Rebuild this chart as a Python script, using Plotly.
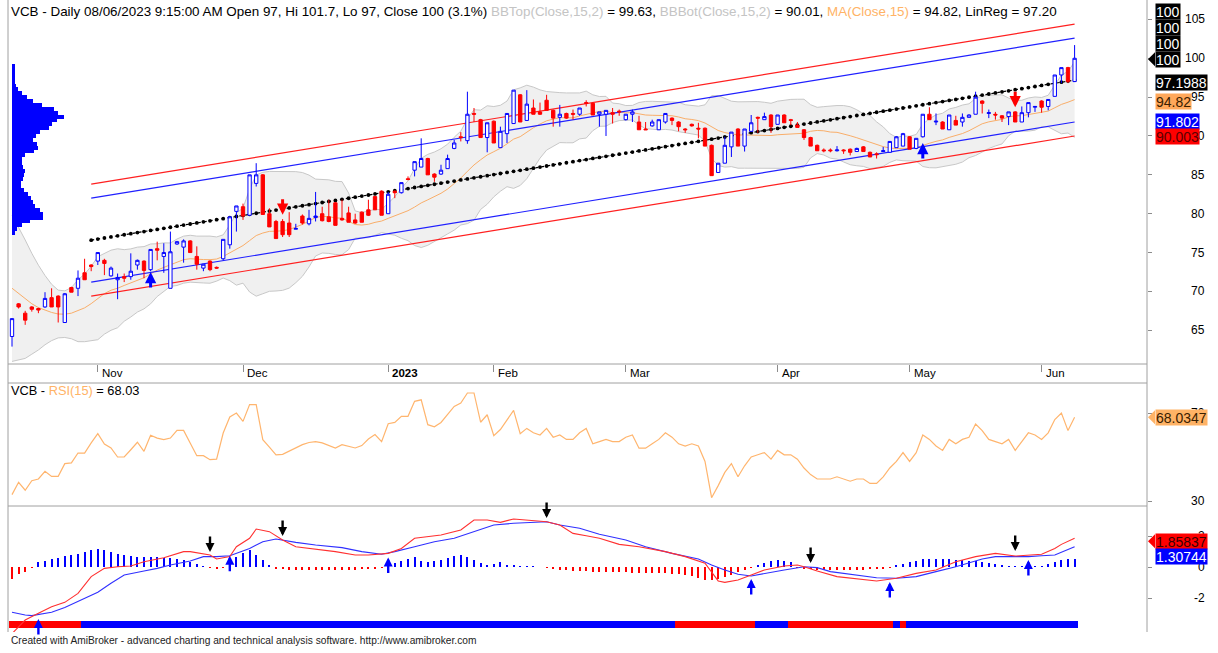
import numpy as np
import pandas as pd
import plotly.graph_objects as go

W, H = 1218, 653

# ------------------------------------------------------------------ data
month_labels = ["Nov", "Dec", "2023", "Feb", "Mar", "Apr", "May", "Jun"]
month_start_bar = [13, 35, 57, 73, 93, 116, 136, 156]

opens = [64.2, 68.4, 67.2, 68.0, 67.8, 68.0, 69.2, 69.4, 66.0, 70.5,
         70.4, 72.4, 73.4, 73.9, 74.0, 72.0, 71.5, 71.9, 71.9, 73.4,
         73.9, 72.8, 75.5, 74.5, 70.4, 76.1, 75.7, 76.5, 74.5, 73.0,
         73.9, 73.1, 74.2, 76.0, 80.3, 80.9, 79.8, 83.9, 85.0, 80.0,
         79.0, 79.0, 78.8, 78.0, 79.7, 78.7, 79.5, 80.0, 79.6, 81.4,
         79.4, 80.1, 79.2, 80.2, 80.5, 82.2, 82.9, 80.0, 82.9, 82.7,
         84.5, 85.6, 86.0, 87.1, 85.1, 85.1, 85.8, 88.4, 89.9, 89.4,
         92.9, 92.1, 89.8, 91.9, 88.5, 90.3, 91.6, 95.3, 92.0, 93.6,
         93.1, 94.6, 93.3, 92.4, 92.9, 92.9, 92.8, 94.3, 94.2, 92.8,
         92.8, 93.0, 93.2, 92.1, 92.8, 91.8, 90.9, 91.3, 90.8, 91.8,
         92.3, 91.8, 90.9, 91.5, 91.0, 91.0, 88.8, 85.3, 86.5, 88.6,
         90.9, 88.7, 90.6, 92.4, 92.1, 92.7, 91.5, 92.7, 92.1, 91.4,
         90.8, 89.8, 88.8, 88.2, 88.2, 88.1, 88.2, 88.3, 88.0, 88.6,
         87.9, 87.7, 88.0, 87.9, 88.5, 88.7, 89.9, 88.4, 89.9, 92.8,
         91.8, 91.8, 90.8, 92.0, 91.8, 92.4, 92.8, 94.5, 92.9, 92.8,
         92.6, 92.5, 93.1, 91.8, 93.0, 93.7, 94.5, 93.8, 95.1, 97.85,
         98.8, 97.0]
highs = [66.5, 68.5, 67.5, 68.1, 67.9, 69.9, 70.4, 69.5, 69.8, 70.6,
         72.7, 74.2, 73.5, 75.0, 74.2, 73.2, 72.3, 72.3, 74.9, 74.1,
         74.0, 75.4, 76.4, 76.2, 77.7, 76.5, 76.7, 76.6, 75.8, 73.5,
         74.0, 73.2, 76.7, 79.6, 81.0, 81.3, 85.0, 86.5, 85.1, 80.7,
         79.2, 79.3, 80.2, 78.7, 79.9, 80.5, 82.8, 80.9, 81.8, 81.5,
         81.8, 80.9, 80.0, 80.3, 81.8, 82.3, 83.0, 82.8, 83.0, 84.0,
         84.8, 86.7, 89.7, 87.2, 85.2, 86.3, 87.6, 89.5, 90.5, 95.7,
         93.6, 92.2, 91.7, 92.0, 91.2, 92.9, 95.9, 95.4, 95.9, 94.7,
         94.3, 95.3, 93.4, 94.0, 93.0, 93.4, 93.6, 94.6, 94.3, 93.1,
         93.3, 93.6, 93.4, 92.8, 93.4, 92.6, 91.8, 92.1, 92.1, 92.9,
         92.4, 91.9, 91.0, 91.6, 91.7, 91.1, 88.9, 86.5, 89.9, 90.5,
         91.0, 90.9, 92.7, 92.5, 93.0, 92.8, 92.7, 92.8, 92.2, 91.8,
         90.9, 89.9, 88.9, 88.4, 88.4, 88.7, 88.3, 88.4, 88.5, 88.7,
         88.0, 87.9, 88.6, 89.3, 90.0, 90.4, 90.0, 89.7, 92.8, 93.7,
         92.9, 91.9, 92.7, 92.6, 92.9, 92.8, 95.7, 94.6, 93.4, 93.1,
         92.7, 93.1, 93.2, 93.8, 94.3, 93.8, 94.6, 94.7, 97.85, 98.8,
         98.9, 101.7]
lows = [62.9, 67.8, 65.7, 67.4, 67.2, 67.9, 68.0, 66.0, 66.0, 69.9,
        69.4, 71.5, 72.6, 73.4, 72.1, 71.9, 69.0, 71.2, 71.5, 72.8,
        71.7, 72.6, 74.0, 72.4, 70.4, 76.0, 73.7, 75.0, 72.8, 72.6,
        72.6, 72.9, 74.0, 75.5, 77.7, 79.2, 79.8, 83.5, 79.9, 78.3,
        76.8, 77.0, 77.0, 78.0, 78.6, 78.5, 79.0, 79.0, 78.9, 78.5,
        79.1, 78.9, 78.7, 78.9, 79.7, 80.5, 79.8, 80.0, 82.0, 82.6,
        84.3, 84.8, 86.0, 85.0, 84.1, 85.0, 85.8, 88.3, 89.3, 89.0,
        91.8, 89.8, 87.9, 89.1, 88.5, 89.1, 91.6, 91.8, 92.0, 92.8,
        92.7, 93.3, 91.2, 91.2, 92.2, 92.1, 92.6, 93.8, 92.7, 91.2,
        90.0, 91.6, 92.6, 92.0, 91.8, 90.8, 90.8, 91.2, 90.8, 91.6,
        91.4, 90.6, 90.4, 91.2, 89.7, 88.7, 84.9, 85.3, 86.5, 87.3,
        88.7, 88.0, 90.6, 90.4, 92.1, 90.4, 91.5, 91.7, 91.4, 91.1,
        89.5, 88.7, 88.1, 87.9, 87.9, 88.0, 87.7, 87.5, 88.0, 88.0,
        87.3, 87.1, 88.0, 87.9, 88.5, 88.7, 88.3, 88.3, 89.8, 92.1,
        91.4, 90.9, 90.8, 91.4, 91.2, 92.4, 92.8, 92.9, 92.3, 92.1,
        91.8, 91.4, 91.8, 91.8, 92.4, 93.1, 93.0, 93.3, 95.1, 96.8,
        96.8, 97.0]
closes = [66.5, 68.0, 66.3, 67.7, 67.6, 69.1, 68.0, 68.0, 69.7, 69.9,
          71.7, 71.5, 73.2, 75.0, 73.6, 73.0, 71.8, 71.7, 72.6, 74.0,
          72.7, 75.4, 75.3, 75.0, 75.1, 76.4, 76.5, 75.0, 73.5, 73.5,
          72.8, 73.0, 76.7, 79.6, 81.0, 79.7, 85.0, 85.0, 79.9, 78.3,
          76.8, 77.3, 77.3, 78.1, 78.8, 79.4, 79.7, 79.1, 79.0, 78.5,
          79.2, 78.9, 78.8, 78.9, 79.8, 80.5, 79.8, 82.5, 82.7, 84.0,
          84.4, 86.7, 87.1, 85.0, 84.7, 85.6, 87.1, 89.1, 89.8, 92.8,
          92.8, 89.8, 91.7, 89.1, 90.6, 92.9, 95.9, 91.8, 94.1, 92.8,
          92.8, 93.3, 92.3, 92.8, 92.3, 92.8, 93.6, 94.2, 92.7, 93.1,
          93.3, 92.8, 93.1, 92.8, 93.1, 90.8, 90.8, 91.8, 92.1, 92.9,
          92.0, 91.2, 90.8, 91.3, 90.9, 88.7, 84.9, 86.5, 88.8, 90.5,
          88.7, 90.9, 91.7, 92.3, 92.5, 91.2, 92.7, 91.7, 92.0, 91.1,
          89.8, 88.7, 88.1, 88.1, 88.1, 88.2, 88.1, 87.9, 88.4, 88.0,
          87.3, 87.6, 88.1, 89.3, 89.9, 90.3, 88.3, 89.7, 92.8, 92.1,
          91.9, 90.9, 92.7, 91.4, 92.4, 92.7, 95.0, 94.2, 93.0, 92.7,
          92.3, 93.1, 91.8, 93.0, 94.3, 93.8, 93.7, 94.7, 97.85, 98.8,
          97.0, 100.0]
# closes before the first visible bar (feed the 15-bar Bollinger / MA window)
prior_closes = [78.0, 77.5, 76.5, 75.0, 74.0, 72.5, 71.0, 70.0, 68.0,
                67.0, 66.0, 65.0, 64.5, 64.7]

# linear-regression channel (LinReg(Close) over the visible trend)
linreg_start_bar = 12
linreg_start = 76.6
linreg_end = 97.20
chan_inner = 5.40
chan_outer = 7.20

# volume-at-price profile
profile_price = [99.0, 98.5, 98.0, 97.5, 97.0, 96.5, 96.0, 95.5, 95.0, 94.5,
                 94.0, 93.5, 93.0, 92.5, 92.0, 91.5, 91.0, 90.5, 90.0, 89.5,
                 89.0, 88.5, 88.0, 87.5, 87.0, 86.5, 86.0, 85.5, 85.0, 84.5,
                 84.0, 83.5, 83.0, 82.5, 82.0, 81.5, 81.0, 80.5, 80.0, 79.5,
                 79.0, 78.5, 78.0, 77.5]
profile_vol = [3, 3, 3, 3, 3, 4, 6, 10, 15, 21,
               30, 42, 46, 52, 45, 40, 37, 28, 24, 21,
               25, 26, 22, 13, 10, 10, 11, 13, 12, 11,
               9, 9, 12, 16, 19, 21, 23, 28, 31, 31,
               18, 10, 5, 3]

rsi = [32.9, 38.5, 34.9, 39.2, 40.0, 43.5, 41.2, 41.2, 47.0, 47.3,
       51.8, 51.8, 56.4, 60.6, 55.9, 54.1, 50.0, 50.0, 53.3, 56.7,
       52.6, 59.9, 58.6, 57.9, 58.6, 62.1, 62.1, 56.4, 50.6, 50.6,
       48.8, 49.0, 60.9, 68.2, 70.0, 66.2, 73.8, 73.8, 57.9, 54.5,
       51.0, 51.2, 52.6, 54.1, 55.6, 56.6, 57.0, 56.4, 55.2, 54.1,
       55.6, 54.8, 54.1, 55.2, 58.2, 60.2, 57.0, 65.1, 65.7, 68.5,
       68.5, 75.3, 76.0, 64.7, 63.7, 65.7, 69.2, 73.0, 74.5, 79.1,
       79.1, 65.8, 69.2, 59.7, 62.5, 66.7, 71.2, 60.6, 63.0, 61.0,
       60.0, 63.0, 59.0, 60.0, 58.0, 58.0, 61.0, 63.0, 56.0, 57.0,
       58.0, 57.0, 57.0, 59.0, 60.0, 54.0, 54.0, 56.0, 58.0, 61.0,
       59.0, 56.0, 55.0, 56.0, 55.0, 48.0, 31.5, 37.0, 43.0, 47.0,
       41.0, 46.0, 50.0, 51.0, 52.0, 49.0, 53.0, 51.0, 51.0, 49.0,
       45.0, 42.0, 40.0, 40.0, 40.0, 41.0, 40.0, 39.0, 40.0, 40.0,
       38.0, 38.0, 41.0, 45.0, 48.0, 52.0, 48.0, 52.0, 60.0, 58.0,
       55.0, 53.0, 58.0, 56.0, 58.0, 59.0, 65.0, 62.0, 58.0, 57.0,
       56.0, 58.0, 53.0, 57.0, 61.0, 60.0, 58.0, 61.0, 67.0, 70.0,
       62.0, 68.03]

macd_bars = [0, 2, 4, 6, 8, 10, 12, 14, 16, 18,
             20, 23, 26, 27, 30, 31, 33, 34, 36, 37,
             39, 41, 43, 46, 49, 52, 54, 57, 59, 61,
             63, 65, 68, 70, 72, 74, 76, 79, 81, 83,
             85, 87, 89, 92, 95, 99, 102, 105, 107, 108,
             110, 112, 114, 117, 119, 120, 122, 125, 128, 131,
             134, 137, 140, 143, 146, 149, 152, 155, 156, 158,
             159, 161]
macd_vals = [-4.3, -3.42, -2.99, -2.56, -2.28, -1.70, -0.62, -0.09, 0.02, 0.06,
             0.34, 0.60, 0.99, 0.99, 0.77, 0.52, 0.67, 1.31, 1.85, 2.45,
             2.28, 1.74, 1.31, 1.16, 0.99, 0.77, 0.77, 0.88, 1.20, 1.85,
             1.96, 2.06, 2.39, 3.03, 3.03, 2.88, 3.10, 2.99, 2.92, 2.71,
             2.17, 2.02, 1.85, 1.46, 1.31, 0.99, 0.67, 0.24, -0.90, -0.99,
             -0.84, -0.52, -0.19, 0.06, 0.13, 0.02, -0.26, -0.62, -0.77, -0.90,
             -0.73, -0.41, -0.19, 0.34, 0.67, 0.88, 0.71, 0.77, 0.82, 1.20,
             1.46, 1.858]
signal_bars = [0, 2, 3, 6, 8, 10, 13, 15, 17, 20,
               22, 24, 27, 29, 31, 33, 36, 38, 40, 43,
               46, 50, 53, 56, 58, 61, 64, 67, 70, 73,
               76, 81, 83, 86, 89, 93, 96, 100, 104, 106,
               108, 110, 112, 114, 117, 120, 122, 124, 128, 131,
               134, 137, 140, 143, 147, 149, 152, 154, 156, 158,
               161]
signal_vals = [-2.92, -3.10, -3.14, -2.92, -2.62, -2.24, -1.63, -1.05, -0.52, -0.26,
               -0.09, 0.13, 0.39, 0.67, 0.67, 0.73, 1.20, 1.63, 1.81, 1.59,
               1.42, 1.25, 0.99, 0.82, 0.99, 1.31, 1.63, 1.85, 2.28, 2.71,
               2.82, 2.92, 2.71, 2.50, 2.11, 1.74, 1.31, 0.88, 0.52, 0.13,
               -0.19, -0.47, -0.58, -0.41, -0.19, 0.02, -0.04, -0.30, -0.52, -0.69,
               -0.73, -0.62, -0.30, 0.02, 0.52, 0.67, 0.67, 0.67, 0.73, 0.77,
               1.307]
macd_hist = [-0.77, -0.45, -0.32, -0.06,
             0.32, 0.39, 0.52, 0.58, 0.71, 0.77, 0.84, 0.97, 1.10, 1.16,
             1.10, 0.97, 0.84, 0.77, 0.71, 0.65, 0.65, 0.65, 0.65, 0.58,
             0.58, 0.52, 0.45, 0.32, 0.19, 0.06,
             -0.06, -0.13, -0.06,
             0.52, 0.65, 0.90, 1.10, 0.77, 0.45, 0.13,
             -0.13, -0.13, -0.19, -0.19, -0.19, -0.19, -0.19, -0.19, -0.19,
             -0.19, -0.19, -0.19, -0.19, -0.13, -0.13, -0.13, -0.06,
             0.19, 0.26, 0.39, 0.52, 0.65, 0.39, 0.32, 0.39, 0.45, 0.58,
             0.71, 0.77, 0.65, 0.45, 0.26, 0.13, 0.19, 0.32, 0.13, 0.13,
             0.06, 0.06,
             0.06, 0.03, -0.06, -0.13, -0.19,
             -0.19, -0.26, -0.26, -0.26, -0.32, -0.32, -0.32, -0.32, -0.32,
             -0.32, -0.39, -0.39, -0.39, -0.39,
             -0.39, -0.39, -0.45, -0.45, -0.52, -0.58, -0.71, -0.84, -0.84,
             -0.77, -0.65, -0.52, -0.32,
             -0.19, -0.06,
             0.13, 0.26, 0.39, 0.45, 0.39, 0.32,
             -0.06, -0.13, -0.13, -0.19, -0.19, -0.19, -0.19, -0.19, -0.19,
             -0.19, -0.19, -0.13, -0.13, -0.13, -0.06,
             0.13, 0.19, 0.32, 0.39, 0.52, 0.52, 0.52, 0.52, 0.52, 0.45,
             0.45, 0.39, 0.39, 0.32, 0.26, 0.19, 0.13,
             0.06, 0.06, 0.06, 0.06, 0.06, 0.06,
             0.19, 0.32, 0.45, 0.52, 0.52]
trend_seg_start = [0, 11, 101, 113, 118, 134, 135, 136]
trend_seg_color = ["#ff0000", "#0000ff", "#ff0000", "#0000ff",
                   "#ff0000", "#0000ff", "#ff0000", "#0000ff"]

price_buy_bars = [21, 138]
price_buy_vals = [72.5, 89.1]
price_sell_bars = [41, 152]
price_sell_vals = [79.85, 93.7]
macd_buy_bars = [4, 33, 57, 112, 133, 154]
macd_buy_vals = [-3.35, 0.73, 0.62, -0.77, -0.97, 0.45]
macd_sell_bars = [30, 41, 81, 121, 152]
macd_sell_vals = [0.97, 2.0, 3.16, 0.26, 1.03]

price_ticks = [65, 70, 75, 80, 85, 90, 95, 100, 105]
rsi_ticks = [30, 70]
macd_ticks = [-2, 0, 2]

# ------------------------------------------------------------------ derived
n = len(closes)
bars = list(range(n))
ser = pd.Series(prior_closes + closes)
ma = ser.rolling(15).mean().iloc[len(prior_closes):].to_numpy()
sd = ser.rolling(15).std(ddof=0).iloc[len(prior_closes):].to_numpy()
bb_top = ma + 2 * sd
bb_bot = ma - 2 * sd

lr_bars = list(range(linreg_start_bar, n))
lr_vals = np.linspace(linreg_start, linreg_end, len(lr_bars))

strip_colors = []
for b in bars:
    idx = max(i for i, s in enumerate(trend_seg_start) if s <= b)
    strip_colors.append(trend_seg_color[idx])

# ------------------------------------------------------------------ layout geometry
PLOT_L, PLOT_R = 8, 1147
PRICE_PX = (0, 364)
RSI_PX = (383, 505)
MACD_PX = (507, 632)
PRICE_RANGE = [60.66, 107.5]
RSI_RANGE = [28.18, 83.64]
MACD_RANGE = [-4.194, 3.871]
XR = [(PLOT_L - 12) / 6.6, (PLOT_R - 12) / 6.6]


def dom(px):
    return [1 - px[1] / H, 1 - px[0] / H]


def xp(px):
    return px / W


def yp(py):
    return 1 - py / H


def val_to_px(v, rng, pxr):
    return pxr[0] + (rng[1] - v) / (rng[1] - rng[0]) * (pxr[1] - pxr[0])


FONT = "Arial, Liberation Sans, sans-serif"
fig = go.Figure()

# Bollinger band
fig.add_trace(go.Scatter(x=bars, y=bb_top, mode="lines", line=dict(color="#c8c8c8", width=1),
                         hoverinfo="skip", xaxis="x", yaxis="y"))
fig.add_trace(go.Scatter(x=bars, y=bb_bot, mode="lines", line=dict(color="#c8c8c8", width=1),
                         fill="tonexty", fillcolor="#f0f0f0", hoverinfo="skip", xaxis="x", yaxis="y"))
# MA
fig.add_trace(go.Scatter(x=bars, y=ma, mode="lines", line=dict(color="#f9ae6a", width=1),
                         hoverinfo="skip", xaxis="x", yaxis="y"))
# channel
for off, col in [(chan_outer, "#ff2020"), (chan_inner, "#2020ff"), (-chan_inner, "#2020ff"), (-chan_outer, "#ff2020")]:
    fig.add_trace(go.Scatter(x=[lr_bars[0], lr_bars[-1]], y=[linreg_start + off, linreg_end + off],
                             mode="lines", line=dict(color=col, width=1.2), hoverinfo="skip",
                             xaxis="x", yaxis="y"))
fig.add_trace(go.Scatter(x=lr_bars, y=lr_vals, mode="lines+markers",
                         line=dict(color="#000000", width=1.2, dash="dot"),
                         marker=dict(color="#000000", size=3.8), hoverinfo="skip", xaxis="x", yaxis="y"))
# profile
fig.add_trace(go.Bar(y=profile_price, x=profile_vol, base=4, orientation="h", width=0.5,
                     marker=dict(color="#0000ff", line=dict(width=0)), hoverinfo="skip",
                     xaxis="x4", yaxis="y"))
# candles (on an overlaid subplot so they sit above the band fill)
fig.add_trace(go.Candlestick(x=bars, open=opens, high=highs, low=lows, close=closes,
                             increasing=dict(line=dict(color="#0000ff", width=1), fillcolor="#ffffff"),
                             decreasing=dict(line=dict(color="#ff0000", width=1), fillcolor="#ff0000"),
                             whiskerwidth=0, hoverinfo="skip", xaxis="x5", yaxis="y5"))
# RSI
fig.add_trace(go.Scatter(x=bars, y=rsi, mode="lines", line=dict(color="#ffb56e", width=1.2),
                         hoverinfo="skip", xaxis="x2", yaxis="y2"))
# MACD
fig.add_trace(go.Bar(x=bars, y=macd_hist, width=0.3,
                     marker=dict(color=["#0000ff" if v > 0 else "#ff0000" for v in macd_hist], line=dict(width=0)),
                     hoverinfo="skip", xaxis="x3", yaxis="y3"))
fig.add_trace(go.Bar(x=bars, y=[0.45] * n, base=-3.94, width=1.0,
                     marker=dict(color=strip_colors, line=dict(width=0)),
                     hoverinfo="skip", xaxis="x3", yaxis="y3"))
fig.add_trace(go.Scatter(x=signal_bars, y=signal_vals, mode="lines", line=dict(color="#3030ff", width=1.1),
                         hoverinfo="skip", xaxis="x3", yaxis="y3"))
fig.add_trace(go.Scatter(x=macd_bars, y=macd_vals, mode="lines", line=dict(color="#ff3030", width=1.1),
                         hoverinfo="skip", xaxis="x3", yaxis="y3"))

ann = []


def arrow(xb, yv, xref, yref, up, color, w=3.0):
    return dict(x=xb, y=yv, xref=xref, yref=yref, text="", showarrow=True, ax=0, ay=17 if up else -17,
                arrowhead=2, arrowsize=0.75, arrowwidth=w, arrowcolor=color, standoff=0)


for b, v in zip(price_buy_bars, price_buy_vals):
    ann.append(arrow(b, v, "x5", "y5", True, "#0000ff"))
for b, v in zip(price_sell_bars, price_sell_vals):
    ann.append(arrow(b, v, "x5", "y5", False, "#ff0000"))
for b, v in zip(macd_buy_bars, macd_buy_vals):
    ann.append(arrow(b, v, "x3", "y3", True, "#0000ff", 2.4))
for b, v in zip(macd_sell_bars, macd_sell_vals):
    ann.append(arrow(b, v, "x3", "y3", False, "#000000", 2.4))

# month labels
for lab, b in zip(month_labels, month_start_bar):
    ann.append(dict(x=b, y=yp(373), xref="x", yref="paper", text=("<b>%s</b>" % lab) if lab == "2023" else lab,
                    showarrow=False, xanchor="left", yanchor="middle", xshift=2,
                    font=dict(family=FONT, size=11.5, color="#000000")))

# tick labels (right aligned)
for t in price_ticks:
    ann.append(dict(x=xp(1207), y=t, xref="paper", yref="y", text=str(t), showarrow=False,
                    xanchor="right", yanchor="middle", font=dict(family=FONT, size=12, color="#000000")))
for t in rsi_ticks:
    ann.append(dict(x=xp(1207), y=t, xref="paper", yref="y2", text=str(t), showarrow=False,
                    xanchor="right", yanchor="middle", font=dict(family=FONT, size=12, color="#000000")))
for t in macd_ticks:
    ann.append(dict(x=xp(1207), y=t, xref="paper", yref="y3", text=str(t), showarrow=False,
                    xanchor="right", yanchor="middle", font=dict(family=FONT, size=12, color="#000000")))


def box(val, yref, text, bg, fg, yshift=0):
    return dict(x=xp(1155), y=val, xref="paper", yref=yref, text=text, showarrow=False,
                xanchor="left", yanchor="middle", yshift=yshift, bgcolor=bg, borderpad=0, height=15,
                font=dict(family=FONT, size=14, color=fg))


last_close = closes[-1]
for s in [47, 31, 15, -1]:
    ann.append(box(last_close, "y", "100", "#000000", "#ffffff", s))
ann.append(box(linreg_end, "y", "97.1988", "#000000", "#ffffff", -2))
ann.append(box(ma[-1], "y", "94.82", "#ffa85a", "#3a2000", -2))
ann.append(box(linreg_end - chan_inner, "y", "91.802", "#0000ff", "#ffffff", 1))
ann.append(box(linreg_end - chan_outer, "y", "90.003", "#ff0000", "#5a0000", -1))
ann.append(box(rsi[-1], "y2", "68.0347", "#ffb366", "#3a2000", 0))
ann.append(box(macd_vals[-1], "y3", "1.85837", "#ff0000", "#3a0000", -3))
ann.append(box(signal_vals[-1], "y3", "1.30744", "#0000ff", "#ffffff", -10))

title = ("VCB - Daily 08/06/2023 9:15:00 AM Open 97, Hi 101.7, Lo 97, Close 100 (3.1%) "
         "<span style='color:#c4c4c4'>BBTop(Close,15,2)</span> = 99.63, "
         "<span style='color:#c4c4c4'>BBBot(Close,15,2)</span> = 90.01, "
         "<span style='color:#ffb366'>MA(Close,15)</span> = 94.82, LinReg = 97.20")
ann.append(dict(x=xp(9), y=yp(12), xref="paper", yref="paper", text=title, showarrow=False,
                xanchor="left", yanchor="middle", font=dict(family=FONT, size=13.42, color="#000000")))
ann.append(dict(x=xp(9), y=yp(390), xref="paper", yref="paper",
                text="VCB - <span style='color:#ffb366'>RSI(15)</span> = 68.03", showarrow=False,
                xanchor="left", yanchor="middle", font=dict(family=FONT, size=12.8, color="#000000")))
ann.append(dict(x=xp(9), y=yp(640), xref="paper", yref="paper",
                text="Created with AmiBroker - advanced charting and technical analysis software. http://www.amibroker.com",
                showarrow=False, xanchor="left", yanchor="middle",
                font=dict(family=FONT, size=10.2, color="#222222")))

shapes = []
GRID = "#a0a0a0"


def line(x0, y0, x1, y1):
    return dict(type="line", xref="paper", yref="paper", x0=xp(x0), y0=yp(y0), x1=xp(x1), y1=yp(y1),
                line=dict(color=GRID, width=1), layer="above")


shapes += [line(PLOT_L, 0, PLOT_L, 632), line(PLOT_R, 0, PLOT_R, 632),
           line(PLOT_L, 364, PLOT_R, 364), line(PLOT_L, 383, PLOT_R, 383), line(PLOT_L, 506, PLOT_R, 506)]


def pointer(ypx, color):
    return dict(type="path", xref="paper", yref="paper",
                path="M %f %f L %f %f L %f %f Z" % (xp(1155), yp(ypx - 7), xp(1148), yp(ypx), xp(1155), yp(ypx + 7)),
                fillcolor=color, line=dict(width=0), layer="above")


shapes.append(pointer(val_to_px(last_close, PRICE_RANGE, PRICE_PX) + 1, "#000000"))
shapes.append(pointer(val_to_px(rsi[-1], RSI_RANGE, RSI_PX), "#ffb366"))
shapes.append(pointer(val_to_px(macd_vals[-1], MACD_RANGE, MACD_PX) + 3, "#ff0000"))

xdom = [xp(PLOT_L), xp(PLOT_R)]
axis_common = dict(showgrid=False, zeroline=False, fixedrange=True)
fig.update_layout(
    width=W, height=H, margin=dict(l=0, r=0, t=0, b=0),
    paper_bgcolor="#ffffff", plot_bgcolor="#ffffff", showlegend=False,
    barmode="overlay", bargap=0, boxgap=0.28,
    font=dict(family=FONT, size=12, color="#000000"),
    xaxis=dict(domain=xdom, range=XR, anchor="y", showticklabels=False, ticks="outside", ticklen=7,
               tickcolor="#8c8c8c", tickvals=month_start_bar, **axis_common),
    xaxis2=dict(domain=xdom, range=XR, anchor="y2", visible=False, **axis_common),
    xaxis3=dict(domain=xdom, range=XR, anchor="y3", visible=False, **axis_common),
    xaxis4=dict(domain=xdom, range=[0, PLOT_R - PLOT_L], anchor="y", overlaying="x", visible=False, **axis_common),
    xaxis5=dict(domain=xdom, range=XR, anchor="y5", overlaying="x", visible=False,
                rangeslider=dict(visible=False), **axis_common),
    yaxis=dict(domain=dom(PRICE_PX), range=PRICE_RANGE, anchor="x", side="right", showticklabels=False,
               ticks="outside", ticklen=4, tickcolor="#8c8c8c", tickvals=price_ticks, **axis_common),
    yaxis5=dict(domain=dom(PRICE_PX), range=PRICE_RANGE, anchor="x5", overlaying="y", side="right",
                visible=False, **axis_common),
    yaxis2=dict(domain=dom(RSI_PX), range=RSI_RANGE, anchor="x2", side="right", showticklabels=False,
                ticks="outside", ticklen=4, tickcolor="#8c8c8c", tickvals=rsi_ticks, **axis_common),
    yaxis3=dict(domain=dom(MACD_PX), range=MACD_RANGE, anchor="x3", side="right", showticklabels=False,
                ticks="outside", ticklen=4, tickcolor="#8c8c8c", tickvals=macd_ticks, **axis_common),
    annotations=ann, shapes=shapes,
)

fig.write_html("out.html", config={"displayModeBar": False, "staticPlot": True},
               post_script="document.body.style.margin='0';")
